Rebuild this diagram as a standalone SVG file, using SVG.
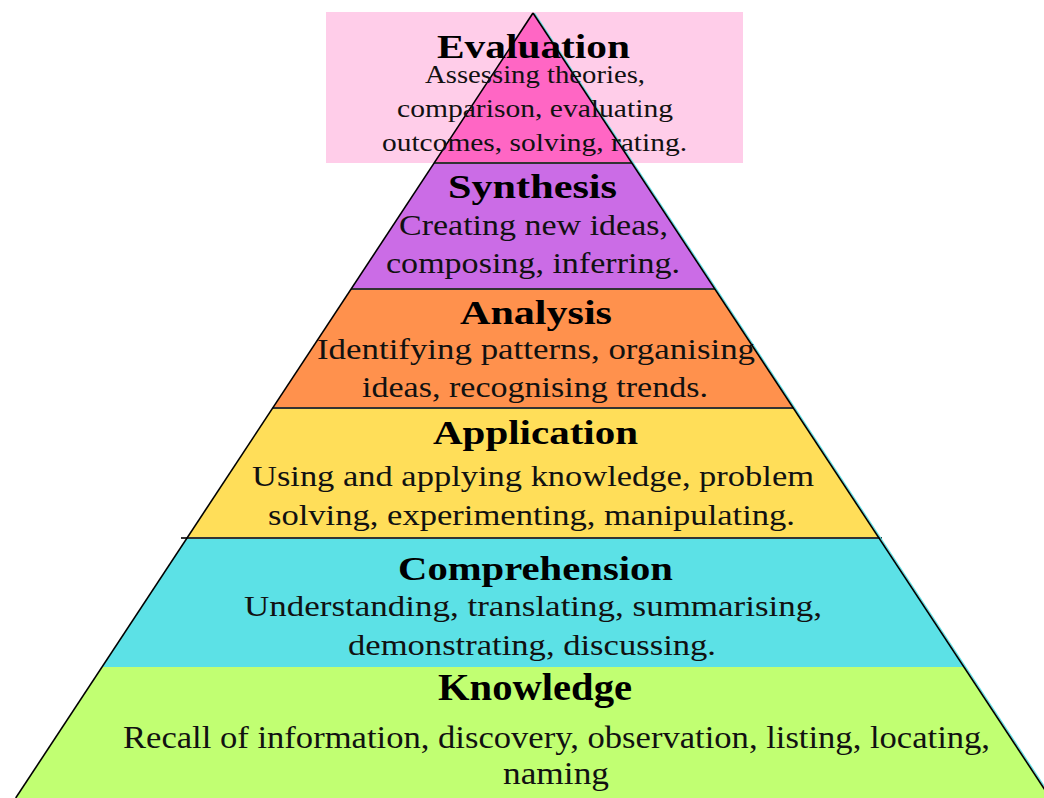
<svg xmlns="http://www.w3.org/2000/svg" width="1044" height="798" viewBox="0 0 1044 798">
<style>
.t{font-family:"Liberation Serif","Times New Roman",serif;font-weight:bold;font-size:34px;fill:#000;text-anchor:middle}
.b{font-family:"Liberation Serif","Times New Roman",serif;font-size:29px;fill:#111;text-anchor:middle}
.be{font-family:"Liberation Serif","Times New Roman",serif;font-size:25px;fill:#111;text-anchor:middle}
.sep{stroke:#333;stroke-width:2}
.edge{stroke:#000;stroke-width:1.6;fill:none}
</style>
<rect width="1044" height="798" fill="#fff"/>
<rect x="326" y="12" width="417" height="151" fill="#ffcde9"/>
<g id="knowledge">
<polygon points="102,667 964,667 1050.3,798 15.7,798" fill="#c1ff72"/>
</g>
<g id="comprehension">
<polygon points="187,538 879,538 964,667 102,667" fill="#5ce1e6"/>
</g>
<g id="application">
<polygon points="272.7,408 793.3,408 879,538 187,538" fill="#ffde59"/>
</g>
<g id="analysis">
<polygon points="351.1,289 714.9,289 793.3,408 272.7,408" fill="#ff914d"/>
</g>
<g id="synthesis">
<polygon points="434.2,163 631.8,163 714.9,289 351.1,289" fill="#cb6ce6"/>
</g>
<g id="evaluation">
<polygon points="533,13 631.8,163 434.2,163" fill="#ff66c4"/>
</g>
<g id="connectors">
<line class="sep" x1="434.2" y1="163" x2="631.8" y2="163"/>
<line class="sep" x1="351.1" y1="289" x2="714.9" y2="289"/>
<line class="sep" x1="272.7" y1="408" x2="793.3" y2="408"/>
<line class="sep" x1="181" y1="538" x2="882" y2="538"/>
<line x1="534.5" y1="13" x2="1052" y2="798" stroke="#5ce1e6" stroke-width="1.2"/>
<line class="edge" x1="533" y1="13" x2="15.7" y2="798"/>
<line class="edge" x1="533" y1="13" x2="1050.3" y2="798"/>
</g>
<g id="labels-evaluation">
<text class="t" x="533.5" y="57.5" textLength="193" lengthAdjust="spacingAndGlyphs">Evaluation</text>
<text class="be" x="535" y="83" textLength="220" lengthAdjust="spacingAndGlyphs">Assessing theories,</text>
<text class="be" x="535" y="117" textLength="276" lengthAdjust="spacingAndGlyphs">comparison, evaluating</text>
<text class="be" x="534.5" y="150.5" textLength="305" lengthAdjust="spacingAndGlyphs">outcomes, solving, rating.</text>
</g>
<g id="labels-synthesis">
<text class="t" x="532.5" y="197.5" textLength="169" lengthAdjust="spacingAndGlyphs">Synthesis</text>
<text class="b" x="533.5" y="235" textLength="269" lengthAdjust="spacingAndGlyphs">Creating new ideas,</text>
<text class="b" x="533" y="273" textLength="294" lengthAdjust="spacingAndGlyphs">composing, inferring.</text>
</g>
<g id="labels-analysis">
<text class="t" x="536" y="324" textLength="152" lengthAdjust="spacingAndGlyphs">Analysis</text>
<text class="b" x="536" y="359" textLength="438" lengthAdjust="spacingAndGlyphs">Identifying patterns, organising</text>
<text class="b" x="535" y="397" textLength="346" lengthAdjust="spacingAndGlyphs">ideas, recognising trends.</text>
</g>
<g id="labels-application">
<text class="t" x="535.5" y="444" textLength="205" lengthAdjust="spacingAndGlyphs">Application</text>
<text class="b" x="533" y="486" textLength="562" lengthAdjust="spacingAndGlyphs">Using and applying knowledge, problem</text>
<text class="b" x="531.5" y="525" textLength="527" lengthAdjust="spacingAndGlyphs">solving, experimenting, manipulating.</text>
</g>
<g id="labels-comprehension">
<text class="t" x="535.5" y="580" textLength="275" lengthAdjust="spacingAndGlyphs">Comprehension</text>
<text class="b" x="533" y="616" textLength="578" lengthAdjust="spacingAndGlyphs">Understanding, translating, summarising,</text>
<text class="b" x="532" y="655" textLength="368" lengthAdjust="spacingAndGlyphs">demonstrating, discussing.</text>
</g>
<g id="labels-knowledge">
<text class="t" x="535" y="700" style="font-size:37px" textLength="194" lengthAdjust="spacingAndGlyphs">Knowledge</text>
<text class="b" x="556.5" y="748" style="font-size:32px" textLength="867" lengthAdjust="spacingAndGlyphs">Recall of information, discovery, observation, listing, locating,</text>
<text class="b" x="556" y="784" style="font-size:32px" textLength="106" lengthAdjust="spacingAndGlyphs">naming</text>
</g>
</svg>
